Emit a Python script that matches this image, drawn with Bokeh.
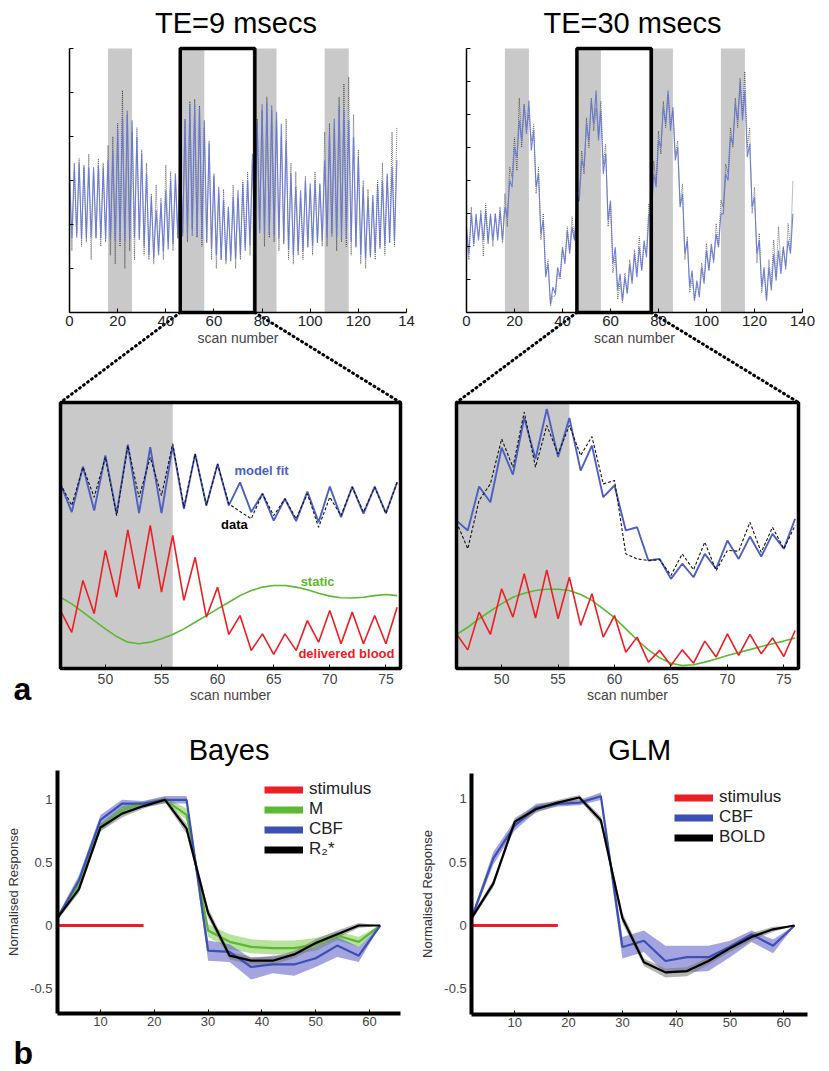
import numpy as np
from bokeh.plotting import figure
from bokeh.models import (Range1d, LinearAxis, FixedTicker, Legend, LegendItem,
                          CustomJSTickFormatter)
from bokeh.core.properties import value
from bokeh.embed import file_html
from bokeh.resources import INLINE

# ------------------------------------------------------------------ data
block_start = [16, 46, 76, 106]
block_end = [26, 56, 86, 116]
zoom_window = (46, 77)
top_xticks = [0, 20, 40, 60, 80, 100, 120, 140]

# TE = 9 ms, full run (even scans 0..136 / odd scans 1..135)
te9_fit_even = [3.20, 3.39, 3.39, 3.35, 3.30, 3.30, 3.35, 3.30,
                3.46, 3.69, 4.14, 4.44, 4.59,
                4.37, 3.99, 3.61, 3.16, 2.63, 2.33, 2.48, 2.78, 3.00, 3.16,
                3.69, 4.37, 4.74, 4.74, 4.67,
                4.37, 3.84, 3.16, 2.86, 2.56, 2.41, 2.63, 2.78, 2.93, 3.00,
                3.61, 4.29, 4.74, 4.78, 4.71,
                4.56, 4.29, 3.91, 3.16, 2.86, 2.78, 3.00, 2.93, 3.00, 2.93,
                3.46, 4.07, 4.41, 4.71, 4.59,
                4.37, 3.99, 3.54, 2.86, 2.63, 2.67, 2.90, 3.00, 3.16, 3.31,
                3.46]
te9_fit_odd = [1.69, 1.70, 1.68, 1.69, 1.70, 1.68, 1.69, 1.68,
               1.65, 1.62, 1.60, 1.62, 1.65,
               1.70, 1.65, 1.50, 1.30, 1.24, 1.30, 1.38, 1.43, 1.55, 1.68,
               1.73, 1.75, 1.74, 1.72, 1.68,
               1.58, 1.45, 1.30, 1.20, 1.18, 1.16, 1.22, 1.32, 1.40, 1.52,
               1.75, 1.80, 1.80, 1.78, 1.75,
               1.68, 1.55, 1.42, 1.30, 1.30, 1.40, 1.48, 1.52, 1.58, 1.62,
               1.70, 1.72, 1.70, 1.72, 1.68,
               1.60, 1.48, 1.32, 1.22, 1.25, 1.35, 1.45, 1.52, 1.58, 1.62]
te9_data_even = [3.00, 3.20, 3.50, 3.30, 3.60, 3.20, 3.50, 3.40,
                 3.80, 4.00, 4.30, 5.05, 4.50,
                 4.10, 4.20, 3.70, 3.40, 2.70, 2.90, 2.60, 3.35, 3.20, 3.00,
                 3.50, 4.40, 4.80, 4.85, 4.70,
                 4.20, 3.90, 3.10, 2.70, 2.80, 2.30, 2.90, 2.60, 3.00, 3.20,
                 3.40, 4.40, 4.60, 4.90, 4.60,
                 4.40, 4.00, 4.40, 3.40, 3.20, 2.60, 3.10, 2.80, 3.20, 2.90,
                 4.10, 4.30, 4.20, 4.90, 5.20,
                 5.35, 4.50, 3.70, 3.00, 2.80, 2.50, 3.00, 3.40, 3.10, 4.10,
                 4.20]
te9_data_odd = [1.40, 1.80, 1.50, 1.60, 1.20, 1.70, 1.50, 1.60,
                1.30, 1.10, 1.50, 1.00, 1.40,
                1.20, 1.70, 1.30, 1.20, 1.10, 1.40, 1.20, 1.60, 1.40, 1.70,
                1.80, 1.60, 1.90, 1.70, 1.50,
                1.60, 1.20, 1.00, 1.20, 1.10, 1.30, 1.00, 1.20, 1.50, 1.30,
                1.60, 1.90, 1.50, 1.70, 1.60,
                1.40, 1.60, 1.20, 1.10, 1.40, 1.20, 1.50, 1.30, 1.60, 1.50,
                1.50, 1.80, 1.40, 1.60, 1.50,
                1.30, 1.50, 1.10, 1.00, 1.30, 1.20, 1.50, 1.30, 1.60, 1.50]

# TE = 30 ms, full run
te30_fit_even = [2.59, 2.99, 2.99, 2.99, 3.09, 2.99, 2.99, 3.09,
                 3.19, 4.00, 5.01, 5.82, 6.32,
                 6.42, 5.51, 4.20, 2.79, 1.47, 0.77, 1.37, 1.98, 2.48, 2.59,
                 3.39, 4.61, 5.72, 6.42, 6.73,
                 6.12, 4.81, 3.39, 1.98, 1.17, 1.07, 1.47, 1.78, 1.98, 2.18,
                 2.99, 4.20, 5.21, 6.22, 6.73,
                 6.22, 5.01, 3.60, 2.18, 1.27, 0.97, 1.37, 1.88, 2.08, 2.38,
                 2.99, 4.20, 5.31, 6.32, 6.98,
                 6.73, 5.11, 3.49, 2.18, 1.37, 1.37, 1.78, 1.88, 1.98, 2.18,
                 2.99]
te30_fit_odd = [1.78, 2.08, 2.18, 2.18, 2.08, 2.18, 2.18, 2.18,
                2.89, 3.80, 4.71, 5.21, 5.41,
                4.91, 3.80, 2.38, 1.07, 0.26, 0.57, 1.07, 1.47, 1.78, 2.18,
                3.39, 4.40, 5.21, 5.72, 5.21,
                4.20, 2.79, 1.47, 0.67, 0.36, 0.57, 0.87, 1.07, 1.27, 1.67,
                2.89, 3.80, 5.01, 5.72, 5.51,
                4.61, 3.19, 1.78, 0.77, 0.36, 0.46, 0.87, 1.27, 1.58, 1.98,
                2.99, 4.00, 5.11, 5.82, 5.82,
                4.71, 3.19, 1.78, 0.77, 0.36, 0.67, 0.97, 1.17, 1.37, 1.78]
te30_data_even = [2.30, 3.20, 2.80, 3.10, 3.30, 2.90, 3.00, 3.20,
                  3.60, 4.40, 5.30, 6.50, 6.30,
                  6.00, 5.70, 4.40, 3.00, 1.60, 0.50, 1.20, 1.90, 2.60, 2.90,
                  3.20, 4.90, 5.90, 6.50, 6.20,
                  6.40, 5.10, 3.30, 1.70, 0.90, 1.20, 1.60, 1.90, 2.30, 2.00,
                  3.30, 4.60, 5.50, 6.40, 6.60,
                  6.10, 5.20, 3.90, 2.30, 1.00, 0.80, 1.50, 2.10, 1.90, 2.70,
                  3.40, 4.50, 5.60, 6.50, 7.10,
                  7.30, 5.60, 3.80, 2.40, 1.20, 1.60, 2.20, 2.60, 2.00, 2.70,
                  4.00]
te30_data_odd = [1.60, 2.00, 2.30, 1.70, 2.20, 2.00, 2.30, 2.10,
                 2.60, 4.10, 4.30, 5.00, 5.60,
                 5.20, 3.60, 2.20, 1.20, 0.20, 0.50, 1.00, 1.60, 1.90, 2.20,
                 3.60, 4.20, 5.00, 5.50, 5.40,
                 4.50, 2.60, 1.20, 0.40, 0.30, 0.60, 1.00, 1.20, 1.30, 1.80,
                 2.70, 3.90, 4.80, 5.60, 5.70,
                 4.80, 3.30, 1.60, 0.60, 0.40, 0.70, 1.00, 1.30, 1.50, 2.00,
                 3.20, 4.20, 5.00, 5.60, 6.00,
                 5.00, 3.00, 1.50, 0.60, 0.40, 0.90, 1.10, 1.40, 1.30, 1.90]

# zoomed window, scans 46..76
mid_scans = list(range(46, 77))
mid_window = (46, 76.3)
mid_stim = (46, 56)
mid_xticks = [50, 55, 60, 65, 70, 75]
m9_fit = [6.94, 5.88, 7.59, 5.94, 8.01, 5.82, 8.42, 5.84, 8.32, 5.84, 8.38, 6.00,
          8.07, 6.13, 7.69, 6.13, 7.00, 5.88, 6.57, 5.56, 6.38, 5.54, 6.65, 5.50,
          6.84, 5.69, 6.84, 5.82, 6.84, 5.84, 7.00]
m9_data = [6.94, 6.13, 7.57, 6.44, 7.95, 5.75, 8.38, 6.44, 7.94, 6.50, 8.45, 6.06,
           8.07, 6.13, 7.69, 6.19, 5.90, 5.63, 6.57, 5.75, 6.38, 5.63, 6.57, 5.31,
           6.44, 5.75, 6.82, 5.88, 6.82, 5.82, 7.00]
m9_blood = [2.18, 1.36, 3.31, 2.06, 4.44, 2.68, 5.21, 2.99, 5.38, 2.87, 5.00, 2.56,
            4.18, 1.93, 3.06, 1.28, 1.99, 0.68, 1.30, 0.53, 1.30, 0.68, 1.80, 0.99,
            2.18, 0.93, 2.12, 0.93, 1.99, 0.93, 2.30]
m9_static = [2.68, 2.43, 2.12, 1.80, 1.49, 1.20, 0.99, 0.93, 0.99, 1.12, 1.28, 1.49,
             1.74, 1.99, 2.24, 2.49, 2.74, 2.93, 3.06, 3.12, 3.12, 3.06, 2.96, 2.83,
             2.72, 2.66, 2.65, 2.68, 2.74, 2.78, 2.74]
m30_fit = [5.56, 5.19, 6.84, 6.25, 8.30, 7.29, 9.42, 7.88, 9.76, 7.95, 9.42, 7.44,
           8.38, 6.44, 6.88, 5.19, 5.31, 4.06, 4.12, 3.37, 3.94, 3.43, 4.31, 3.75,
           4.81, 4.12, 4.96, 4.21, 5.06, 4.50, 5.63]
m30_data = [5.50, 4.50, 6.32, 6.94, 8.63, 7.57, 9.64, 7.57, 9.14, 8.07, 9.14, 8.01,
            8.72, 6.94, 7.07, 4.31, 4.12, 4.06, 4.09, 3.50, 4.31, 3.71, 4.75, 3.68,
            4.44, 4.41, 5.50, 4.37, 5.31, 4.50, 5.38]
m30_blood = [1.30, 0.70, 2.12, 1.28, 3.00, 1.93, 3.56, 1.90, 3.71, 1.87, 3.43, 1.62,
             2.81, 1.18, 1.99, 0.61, 1.18, 0.24, 0.68, 0.11, 0.70, 0.20, 1.03, 0.43,
             1.30, 0.49, 1.28, 0.55, 1.15, 0.45, 1.43]
m30_static = [1.28, 1.55, 1.87, 2.16, 2.43, 2.68, 2.83, 2.93, 2.98, 2.98, 2.93, 2.78,
              2.56, 2.24, 1.91, 1.49, 1.08, 0.70, 0.40, 0.20, 0.11, 0.14, 0.24, 0.36,
              0.49, 0.60, 0.71, 0.83, 0.93, 1.03, 1.15]

# event-related responses (panel b)
resp_t = [2, 6, 10, 14, 18, 22, 26, 30, 34, 38, 42, 46, 50, 54, 58, 62]
stim_t = [2, 18]
stim_v = [0, 0]
bayes_r2 = [0.06, 0.29, 0.78, 0.89, 0.95, 1.00, 0.77, 0.10, -0.24, -0.28, -0.28, -0.23, -0.14, -0.07, 0.00, 0.00]
bayes_r2_lo = [0.04, 0.26, 0.75, 0.86, 0.93, 0.98, 0.73, 0.06, -0.27, -0.31, -0.31, -0.26, -0.17, -0.10, -0.02, 0.00]
bayes_r2_hi = [0.08, 0.32, 0.81, 0.92, 0.97, 1.02, 0.81, 0.14, -0.21, -0.25, -0.25, -0.20, -0.11, -0.04, 0.02, 0.00]
bayes_cbf = [0.06, 0.36, 0.84, 0.97, 0.97, 1.00, 1.00, -0.20, -0.21, -0.33, -0.31, -0.31, -0.26, -0.16, -0.24, 0.00]
bayes_cbf_lo = [0.04, 0.31, 0.79, 0.93, 0.94, 0.97, 0.97, -0.28, -0.29, -0.43, -0.38, -0.40, -0.33, -0.25, -0.29, 0.00]
bayes_cbf_hi = [0.08, 0.40, 0.88, 1.00, 0.99, 1.03, 1.03, -0.12, -0.15, -0.26, -0.24, -0.23, -0.17, -0.09, -0.17, 0.00]
bayes_m = [0.06, 0.32, 0.78, 0.92, 0.97, 1.00, 0.88, -0.04, -0.13, -0.17, -0.18, -0.18, -0.15, -0.08, -0.13, 0.00]
bayes_m_lo = [0.04, 0.29, 0.75, 0.89, 0.95, 0.98, 0.84, -0.09, -0.19, -0.22, -0.23, -0.23, -0.20, -0.12, -0.17, 0.00]
bayes_m_hi = [0.08, 0.35, 0.81, 0.95, 0.99, 1.02, 0.93, 0.01, -0.07, -0.11, -0.12, -0.12, -0.10, -0.05, -0.09, 0.00]
glm_bold = [0.06, 0.33, 0.82, 0.92, 0.97, 1.01, 0.83, 0.06, -0.29, -0.37, -0.36, -0.28, -0.18, -0.09, -0.03, 0.00]
glm_bold_lo = [0.04, 0.30, 0.79, 0.89, 0.95, 0.99, 0.80, 0.02, -0.32, -0.41, -0.40, -0.31, -0.21, -0.12, -0.05, 0.00]
glm_bold_hi = [0.08, 0.36, 0.85, 0.95, 0.99, 1.03, 0.86, 0.10, -0.26, -0.34, -0.33, -0.25, -0.15, -0.06, -0.01, 0.00]
glm_cbf = [0.06, 0.53, 0.79, 0.93, 0.96, 0.97, 1.02, -0.17, -0.12, -0.28, -0.25, -0.25, -0.17, -0.07, -0.16, 0.00]
glm_cbf_lo = [0.04, 0.48, 0.75, 0.90, 0.94, 0.95, 0.99, -0.26, -0.21, -0.38, -0.37, -0.36, -0.25, -0.13, -0.22, 0.00]
glm_cbf_hi = [0.08, 0.58, 0.83, 0.96, 0.98, 0.99, 1.05, -0.09, -0.04, -0.16, -0.16, -0.16, -0.12, -0.04, -0.11, 0.00]
resp_xticks = [10, 20, 30, 40, 50, 60]
resp_yticks = [-0.5, 0, 0.5, 1]

# ------------------------------------------------------------------ layout
W, H = 829, 1071
FONT_NAME = "Liberation Sans"
FONT = value(FONT_NAME)
BLUE_FIT = "#4d5fc2"
BLUE_TOP = "#6374cf"
BLUE = "#3b4fb4"
GREEN = "#5cb832"
RED = "#ee1d23"
GREY_BAND = "#c9c9c9"

# pixel box of each panel: (px_lo, px_hi) <-> (x_lo, x_hi); (py_lo, py_hi) <-> (y_lo, y_hi)
panels = {
    "t1": dict(px=(69, 406), dx=(0, 140), py=(312, 48), dy=(0, 6)),
    "t2": dict(px=(466, 802), dx=(0, 140), py=(312, 48), dy=(0, 8)),
    "m1": dict(px=(60, 400), dx=mid_window, py=(668, 402), dy=(0, 10)),
    "m2": dict(px=(456, 798), dx=mid_window, py=(668, 402), dy=(0, 10)),
    "b1": dict(px=(100, 369), dx=(10, 60), py=(925, 799.3), dy=(0, 1)),
    "b2": dict(px=(514.3, 783.3), dx=(10, 60), py=(925, 798.3), dy=(0, 1)),
}

p = figure(width=W, height=H, x_range=Range1d(0, W), y_range=Range1d(H, 0),
           x_axis_type=None, y_axis_type=None, output_backend="svg",
           toolbar_location=None, min_border=0, outline_line_color=None)
p.background_fill_color = "white"
p.border_fill_color = "white"


def scale(name):
    s = panels[name]
    sx = (s["dx"][1] - s["dx"][0]) / (s["px"][1] - s["px"][0])
    sy = (s["dy"][1] - s["dy"][0]) / (s["py"][0] - s["py"][1])
    return s, sx, sy


for name in panels:
    s, sx, sy = scale(name)
    x0 = s["dx"][0] - s["px"][0] * sx
    y0 = s["dy"][0] - (H - s["py"][0]) * sy
    p.extra_x_ranges[name] = Range1d(x0, x0 + W * sx)
    p.extra_y_ranges[name] = Range1d(y0, y0 + H * sy)


def to_px(name, x, y):
    s, sx, sy = scale(name)
    return (s["px"][0] + (x - s["dx"][0]) / sx, s["py"][0] - (y - s["dy"][0]) / sy)


def R(name):
    return dict(x_range_name=name, y_range_name=name)


def interleave(even, odd):
    out = np.empty(len(even) + len(odd))
    out[0::2] = even
    out[1::2] = odd
    return out


def txt(x, y, t, size, color="black", align="center", bold=False, **kw):
    p.text(x=[x], y=[y], text=[t], text_font=FONT, text_font_size=size,
           text_color=color, text_align=align, text_baseline="middle",
           text_font_style="bold" if bold else "normal", **kw)


# ---------------- top panels
scans = np.arange(len(te9_fit_even) + len(te9_fit_odd))
top_sets = [("t1", 6, te9_fit_even, te9_fit_odd, te9_data_even, te9_data_odd, "TE=9 msecs"),
            ("t2", 8, te30_fit_even, te30_fit_odd, te30_data_even, te30_data_odd, "TE=30 msecs")]
for name, ytop, fe, fo, de, do, title in top_sets:
    p.quad(left=block_start, right=block_end, bottom=0, top=ytop,
           fill_color=GREY_BAND, line_color=None, **R(name))
    p.line(scans, interleave(de, do), line_color="#111111", line_width=0.7,
           line_alpha=0.8, line_dash="1 1", **R(name))
    p.line(scans, interleave(fe, fo), line_color=BLUE_TOP, line_width=1.1,
           line_alpha=0.9, **R(name))
    p.quad(left=[zoom_window[0]], right=[zoom_window[1]], bottom=[0], top=[ytop],
           fill_color=None, line_color="black", line_width=3.5, **R(name))
    ax = LinearAxis(fixed_location=0, bounds=(0, 140), ticker=FixedTicker(ticks=top_xticks),
                    axis_label="scan number", axis_label_text_font=FONT_NAME,
                    axis_label_text_font_size="14px", axis_label_text_color="#444444",
                    axis_label_text_font_style="normal", axis_label_standoff=1,
                    major_label_text_font=FONT_NAME, major_label_text_font_size="15px",
                    major_label_text_color="#222222", major_label_standoff=3,
                    major_tick_in=4, major_tick_out=0, minor_tick_line_color=None,
                    axis_line_width=1.5, **R(name))
    if name == "t1":
        ax.major_label_overrides = {140: "14"}
    p.add_layout(ax, "below")
    ay = LinearAxis(fixed_location=0, bounds=(0, ytop),
                    ticker=FixedTicker(ticks=list(range(ytop + 1))),
                    major_label_overrides={k: "" for k in range(ytop + 1)},
                    major_tick_in=4, major_tick_out=0, minor_tick_line_color=None,
                    axis_line_width=1.5, **R(name))
    p.add_layout(ay, "left")
    s = panels[name]
    txt((s["px"][0] + s["px"][1]) / 2 - 2, 22, title, "29px")

# ---------------- zoomed panels
mid_sets = [("m1", m9_fit, m9_data, m9_blood, m9_static, "t1"),
            ("m2", m30_fit, m30_data, m30_blood, m30_static, "t2")]
for name, fit, dat, blood, static, parent in mid_sets:
    p.quad(left=[mid_stim[0]], right=[mid_stim[1]], bottom=[0], top=[10],
           fill_color=GREY_BAND, line_color=None, **R(name))
    p.line(mid_scans, static, line_color=GREEN, line_width=1.6, **R(name))
    p.line(mid_scans, blood, line_color=RED, line_width=1.6, **R(name))
    p.line(mid_scans, fit, line_color=BLUE_FIT, line_width=1.9, **R(name))
    p.line(mid_scans, dat, line_color="#111111", line_width=1.1, line_dash="3 2", **R(name))
    p.quad(left=[mid_window[0]], right=[mid_window[1]], bottom=[0], top=[10],
           fill_color=None, line_color="black", line_width=3.5, **R(name))
    ax = LinearAxis(fixed_location=0, bounds=mid_window, ticker=FixedTicker(ticks=mid_xticks),
                    axis_label="scan number", axis_label_text_font=FONT_NAME,
                    axis_label_text_font_size="14px", axis_label_text_color="#444444",
                    axis_label_text_font_style="normal", axis_label_standoff=0,
                    major_label_text_font=FONT_NAME, major_label_text_font_size="14px",
                    major_label_text_color="#444444", major_label_standoff=5,
                    major_tick_in=4, major_tick_out=0, minor_tick_line_color=None,
                    axis_line_color=None, **R(name))
    p.add_layout(ax, "below")
    # dotted connectors from the zoom box in the run above
    a0 = to_px(parent, zoom_window[0], 0)
    a1 = to_px(parent, zoom_window[1], 0)
    b0 = to_px(name, mid_window[0], 10)
    b1 = to_px(name, mid_window[1], 10)
    p.segment(x0=[a0[0], a1[0]], y0=[a0[1], a1[1]], x1=[b0[0], b1[0]], y1=[b0[1], b1[1]],
              line_color="black", line_width=3, line_dash="1 4", line_cap="round")

p.text(x=[61.5, 60.3, 67.4, 67.2], y=[7.44, 5.41, 3.27, 0.56],
       text=["model fit", "data", "static", "delivered blood"],
       text_color=[BLUE_FIT, "black", GREEN, RED], text_font=FONT,
       text_font_size="13px", text_font_style="bold", text_baseline="middle",
       text_align="left", **R("m1"))

txt(13, 688, "a", "32px", align="left", bold=True)
txt(13, 1052, "b", "32px", align="left", bold=True)

# ---------------- response panels
resp_sets = [
    ("b1", "Bayes", 65.8, 1.23,
     [("M", GREEN, "#7ccc4a", bayes_m, bayes_m_lo, bayes_m_hi),
      ("CBF", BLUE, "#5a5ac8", bayes_cbf, bayes_cbf_lo, bayes_cbf_hi),
      ("R₂*", "black", "#777777", bayes_r2, bayes_r2_lo, bayes_r2_hi)],
     (264, 212)),
    ("b2", "GLM", 64.4, 1.20,
     [("CBF", BLUE, "#5a5ac8", glm_cbf, glm_cbf_lo, glm_cbf_hi),
      ("BOLD", "black", "#777777", glm_bold, glm_bold_lo, glm_bold_hi)],
     (674, 224)),
]
for name, title, xmax, ymax, series, legloc in resp_sets:
    for lab, col, bandcol, mean, lo, hi in series:
        p.varea(x=resp_t, y1=lo, y2=hi, fill_color=bandcol, fill_alpha=0.55, **R(name))
    for lab, col, bandcol, mean, lo, hi in series:
        p.line(resp_t, mean, line_color=col, line_width=2.2, **R(name))
    p.line(stim_t, stim_v, line_color=RED, line_width=3, **R(name))

    # legend keys: thick swatches (renderers hold no visible points)
    items = []
    for lab, col in [("stimulus", RED)] + [(s[0], s[1]) for s in series]:
        r = p.line(x=[np.nan, np.nan], y=[np.nan, np.nan], line_color=col, line_width=7, **R(name))
        items.append(LegendItem(label=lab, renderers=[r]))
    leg = Legend(items=items, location=legloc, background_fill_alpha=0,
                 border_line_color=None, padding=0, margin=0, spacing=0,
                 glyph_width=39, glyph_height=19, label_height=19, label_standoff=6,
                 label_text_font=FONT_NAME, label_text_font_size="17px",
                 label_text_color="#222222")
    p.add_layout(leg)

    ax = LinearAxis(fixed_location=-0.7, bounds=(2, xmax), ticker=FixedTicker(ticks=resp_xticks),
                    major_label_text_font=FONT_NAME, major_label_text_font_size="13px",
                    major_label_text_color="#444444", major_label_standoff=4,
                    major_tick_in=4, major_tick_out=0, minor_tick_line_color=None,
                    axis_line_width=4, **R(name))
    p.add_layout(ax, "below")
    ay = LinearAxis(fixed_location=2, bounds=(-0.7, ymax), ticker=FixedTicker(ticks=resp_yticks),
                    formatter=CustomJSTickFormatter(code="return String(tick)"),
                    axis_label="Normalised Response", axis_label_text_font=FONT_NAME,
                    axis_label_text_font_size="13px", axis_label_text_color="#333333",
                    axis_label_text_font_style="normal", axis_label_standoff=6,
                    major_label_text_font=FONT_NAME, major_label_text_font_size="13px",
                    major_label_text_color="#444444", major_label_standoff=5,
                    major_tick_in=0, major_tick_out=0, minor_tick_line_color=None,
                    axis_line_width=4, **R(name))
    p.add_layout(ay, "left")
    s = panels[name]
    cx = to_px(name, (2 + xmax) / 2, 0)[0]
    txt(cx, 749, title, "29px")

open("out.html", "w").write(file_html(p, INLINE))
